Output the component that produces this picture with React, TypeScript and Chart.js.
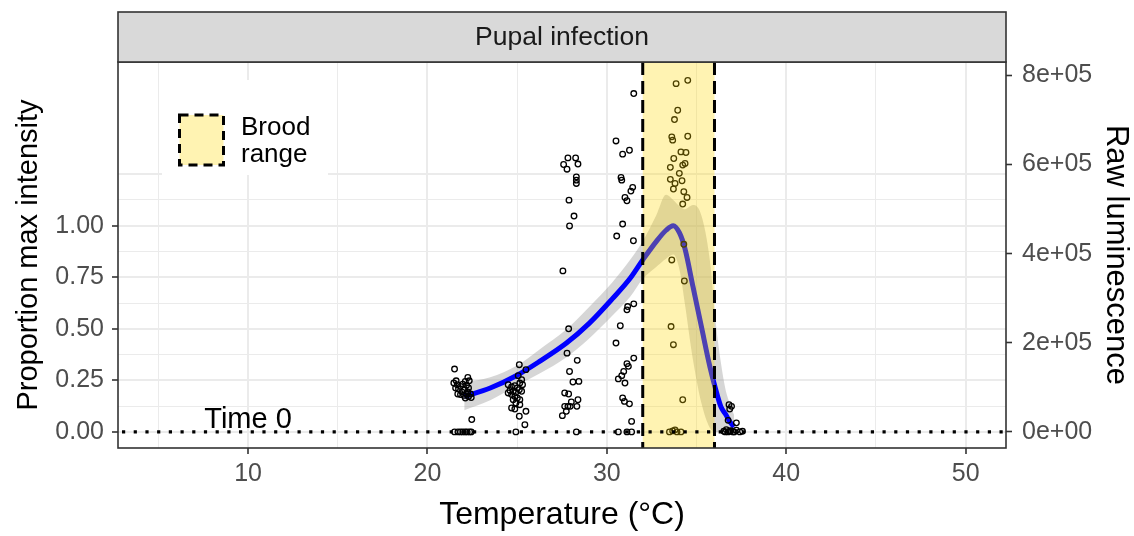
import React, { useEffect, useRef } from "react";
import { Chart, registerables } from "chart.js";

Chart.register(...registerables);

// ---------- data ----------
const X_MIN = 2.75;
const X_MAX = 52.25;
const Y_MIN = -0.078;
const Y_MAX = 1.794;
const LUM_PER_UNIT = 462700; // raw luminescence for proportion 1.0

const X_TICKS = [5, 10, 15, 20, 25, 30, 35, 40, 45, 50];
const X_LABELED = [10, 20, 30, 40, 50];
const Y_TICKS = [0, 0.125, 0.25, 0.375, 0.5, 0.625, 0.75, 0.875, 1, 1.125, 1.25];
const Y_LABELED = [0, 0.25, 0.5, 0.75, 1];
const LUM_TICKS = [0, 200000, 400000, 600000, 800000];

const BROOD_RANGE = [32, 36];
const ZERO_LINE = 0;
const TIME0_T = 10;
const TIME0_TEXT = "Time 0";
const STRIP_TEXT = "Pupal infection";
const LEGEND_LINES = ["Brood", "range"];
const X_TITLE = "Temperature (°C)";
const Y_TITLE = "Proportion max intensity";
const Y2_TITLE = "Raw luminescence";

const POINT_T = [
  // ~22 °C
  21.51, 21.7, 21.84, 21.97, 22.1, 22.21, 22.35, 22.44,
  21.51, 21.6, 21.47, 21.66, 21.57, 21.73, 21.84, 21.97, 22.11, 22.25, 22.33, 22.18,
  22.29, 22.07, 21.92, 21.69, 21.84, 22.03, 22.18, 22.29, 22.4, 22.44, 22.11, 22.25, 22.47,
  // ~25 °C
  25.12, 25.49, 25.06, 25.25, 24.5, 24.69, 24.87, 25.01, 25.15, 25.3, 24.6, 24.78, 24.93,
  25.12, 25.25, 24.5, 24.69, 24.87, 25.01, 25.15, 24.78, 24.93, 24.69, 24.87, 25.15, 25.49,
  25.12, 25.43, 24.93,
  // ~28 °C
  27.83, 28.26, 27.59, 27.78, 28.39, 28.3, 28.3, 28.3, 27.89, 28.17, 27.92, 27.55, 27.87,
  27.78, 28.35, 27.92, 28.11, 28.44, 27.65, 27.87, 28.39, 28.02, 27.65, 27.83, 27.96, 28.33,
  27.74, 27.52, 28.3,
  // ~31 °C
  31.5, 30.51, 30.88, 31.26, 30.79, 30.83, 31.44, 31.34, 31.01, 31.12, 30.88, 30.55, 31.48,
  31.5, 31.16, 31.12, 30.75, 30.51, 31.5, 31.12, 31.2, 30.94, 30.83, 30.64, 31.01, 30.88,
  30.98, 31.26, 31.38, 30.64, 31.12, 31.38,
  // ~34 °C
  33.86, 34.51, 33.95, 33.77, 33.62, 33.67, 34.51, 34.13, 34.41, 33.73, 34.23, 34.36, 33.54,
  34.04, 33.54, 33.8, 34.19, 33.71, 34.29, 34.47, 34.23, 34.29, 33.62, 34.32, 33.58, 33.71,
  34.23, 33.49, 33.67, 33.8, 33.91, 34.13,
  // ~37 °C
  36.81, 36.95, 36.85, 36.76, 37.22, 36.52, 36.66, 36.85, 37.03, 37.22, 37.41, 37.56, 36.76,
  36.6, 36.9, 37.1,
];

const POINT_Y = [
  // ~22 °C
  0, 0, 0, 0, 0, 0, 0, 0,
  0.305, 0.248, 0.237, 0.229, 0.213, 0.208, 0.221, 0.232, 0.245, 0.264, 0.248, 0.226,
  0.213, 0.205, 0.194, 0.184, 0.181, 0.177, 0.184, 0.172, 0.184, 0.167, 0.164, 0.194, 0.06,
  // ~25 °C
  0.326, 0.302, 0.273, 0.253, 0.229, 0.218, 0.224, 0.213, 0.237, 0.229, 0.201, 0.197, 0.192,
  0.205, 0.197, 0.189, 0.181, 0.172, 0.165, 0.156, 0.156, 0.14, 0.116, 0.111, 0.132, 0.1,
  0.076, 0.035, 0,
  // ~28 °C
  1.329, 1.329, 1.297, 1.274, 1.299, 1.237, 1.221, 1.205, 1.124, 1.047, 0.999, 0.781, 0.5,
  0.382, 0.347, 0.293, 0.242, 0.245, 0.189, 0.184, 0.156, 0.145, 0.124, 0.124, 0.124, 0.124,
  0.1, 0.079, 0,
  // ~31 °C
  1.641, 1.411, 1.347, 1.366, 1.234, 1.221, 1.186, 1.168, 1.137, 1.121, 1.008, 0.95, 0.927,
  0.621, 0.608, 0.592, 0.515, 0.431, 0.358, 0.331, 0.318, 0.293, 0.273, 0.257, 0.237, 0.165,
  0.148, 0.136, 0.051, 0, 0, 0,
  // ~34 °C
  1.689, 1.705, 1.56, 1.515, 1.431, 1.415, 1.434, 1.358, 1.355, 1.326, 1.294, 1.302, 1.283,
  1.254, 1.225, 1.205, 1.218, 1.178, 1.165, 1.137, 1.105, 0.91, 0.834, 0.732, 0.511, 0.423,
  0.156, 0, 0.005, 0.01, 0, 0,
  // ~37 °C
  0.132, 0.124, 0.111, 0.056, 0.044, 0.003, 0.011, 0.003, 0, 0.008, 0, 0.003, 0,
  0, 0.006, 0,
];

const CURVE_T = [22.05, 23.5, 25.0, 26.25, 27.75, 29.0, 30.3, 31.3, 32.0, 32.75, 33.3, 33.7, 34.05, 34.35, 34.8, 35.27, 35.74, 36.07, 36.35, 36.63, 36.85, 37.1];
const CURVE_Y = [0.172, 0.213, 0.275, 0.342, 0.431, 0.525, 0.645, 0.745, 0.834, 0.923, 0.978, 1.0, 0.965, 0.89, 0.705, 0.511, 0.318, 0.205, 0.124, 0.084, 0.05, 0.025];
const CI_HIGH = [0.24, 0.265, 0.322, 0.4, 0.498, 0.605, 0.725, 0.835, 0.925, 1.05, 1.15, 1.125, 1.095, 1.08, 1.1, 1.05, 0.834, 0.53, 0.34, 0.2, 0.14, 0.08];
const CI_LOW = [0.105, 0.153, 0.226, 0.283, 0.362, 0.452, 0.563, 0.655, 0.742, 0.8, 0.84, 0.86, 0.786, 0.62, 0.35, 0.14, 0.02, 0, 0, 0, 0, 0];

// ---------- styling ----------
const FONT = '"Liberation Sans", Arial, Helvetica, sans-serif';
const W = 1134;
const H = 536;
const PANEL = { left: 118, right: 1006, top: 62, bottom: 448 };
const STRIP_TOP = 12;
const BROOD_FILL = "rgba(255,215,0,0.3)";

const overlay = {
  id: "overlay",
  beforeDatasetsDraw(chart: any) {
    const { ctx } = chart;
    ctx.save();
    ctx.fillStyle = "#FFFFFF";
    ctx.fillRect(162, 80, 166, 95);
    ctx.restore();
  },
  afterDatasetsDraw(chart: any) {
    const { ctx, chartArea: ca, scales } = chart;
    const xs = scales.x;
    const ys = scales.y;
    ctx.save();
    ctx.beginPath();
    ctx.rect(ca.left, ca.top, ca.right - ca.left, ca.bottom - ca.top);
    ctx.clip();

    const x0 = xs.getPixelForValue(BROOD_RANGE[0]);
    const x1 = xs.getPixelForValue(BROOD_RANGE[1]);
    ctx.fillStyle = BROOD_FILL;
    ctx.fillRect(x0, ca.top, x1 - x0, ca.bottom - ca.top);

    const y0 = ys.getPixelForValue(ZERO_LINE);
    ctx.strokeStyle = "#000";
    ctx.lineWidth = 3.2;
    ctx.setLineDash([3.2, 8.5]);
    ctx.beginPath();
    ctx.moveTo(ca.left + 4, y0);
    ctx.lineTo(ca.right, y0);
    ctx.stroke();

    ctx.setLineDash([13, 6]);
    ctx.lineWidth = 3;
    for (const xv of [x0, x1]) {
      ctx.beginPath();
      ctx.moveTo(xv, ca.top);
      ctx.lineTo(xv, ca.bottom);
      ctx.stroke();
    }
    ctx.setLineDash([]);

    ctx.fillStyle = "#000";
    ctx.font = `29px ${FONT}`;
    ctx.textAlign = "center";
    ctx.textBaseline = "alphabetic";
    ctx.fillText(TIME0_TEXT, xs.getPixelForValue(TIME0_T), y0 - 4);
    ctx.restore();

    // legend key
    ctx.save();
    ctx.fillStyle = BROOD_FILL;
    ctx.fillRect(179.5, 115, 44, 50);
    ctx.strokeStyle = "#000";
    ctx.lineWidth = 3;
    ctx.setLineDash([9, 6]);
    ctx.strokeRect(179.5, 115, 44, 50);
    ctx.setLineDash([]);
    ctx.fillStyle = "#000";
    ctx.font = `26px ${FONT}`;
    ctx.textAlign = "left";
    ctx.textBaseline = "alphabetic";
    ctx.fillText(LEGEND_LINES[0], 241, 135);
    ctx.fillText(LEGEND_LINES[1], 241, 162);
    ctx.restore();

    // panel border
    ctx.save();
    ctx.strokeStyle = "#333333";
    ctx.lineWidth = 1.6;
    ctx.strokeRect(ca.left, ca.top, ca.right - ca.left, ca.bottom - ca.top);
    ctx.restore();
  },
  afterDraw(chart: any) {
    const { ctx, chartArea: ca } = chart;
    ctx.save();
    ctx.fillStyle = "#D9D9D9";
    ctx.fillRect(ca.left, STRIP_TOP, ca.right - ca.left, ca.top - STRIP_TOP);
    ctx.strokeStyle = "#333333";
    ctx.lineWidth = 1.6;
    ctx.strokeRect(ca.left, STRIP_TOP, ca.right - ca.left, ca.top - STRIP_TOP);
    ctx.fillStyle = "#1A1A1A";
    ctx.font = `26.5px ${FONT}`;
    ctx.textAlign = "center";
    ctx.textBaseline = "middle";
    ctx.fillText(STRIP_TEXT, (ca.left + ca.right) / 2, (STRIP_TOP + ca.top) / 2 + 1);
    ctx.restore();
  },
};

const lumLabel = (v: number) =>
  v.toExponential(0).replace(/e([+-])(\d)$/, "e$10$2");

export default function App() {
  const ref = useRef<HTMLCanvasElement | null>(null);

  useEffect(() => {
    if (!ref.current) return;
    const points = POINT_T.map((t, i) => ({ x: t, y: POINT_Y[i] }));
    const curve = CURVE_T.map((t, i) => ({ x: t, y: CURVE_Y[i] }));
    const hi = CURVE_T.map((t, i) => ({ x: t, y: CI_HIGH[i] }));
    const lo = CURVE_T.map((t, i) => ({ x: t, y: CI_LOW[i] }));

    const tickFont = { family: FONT, size: 25 };

    const chart = new Chart(ref.current, {
      type: "scatter",
      data: {
        datasets: [
          {
            type: "scatter",
            data: points,
            pointStyle: "circle",
            pointRadius: 2.8,
            borderWidth: 1.3,
            borderColor: "#000000",
            backgroundColor: "rgba(0,0,0,0)",
            order: 0,
          } as any,
          {
            type: "line",
            data: curve,
            borderColor: "#0000FF",
            borderWidth: 5,
            pointRadius: 0,
            fill: false,
            cubicInterpolationMode: "monotone",
            order: 1,
          } as any,
          {
            type: "line",
            data: hi,
            borderColor: "rgba(0,0,0,0)",
            borderWidth: 0,
            pointRadius: 0,
            backgroundColor: "rgba(153,153,153,0.4)",
            fill: "+1",
            cubicInterpolationMode: "monotone",
            order: 2,
          } as any,
          {
            type: "line",
            data: lo,
            borderColor: "rgba(0,0,0,0)",
            borderWidth: 0,
            pointRadius: 0,
            fill: false,
            cubicInterpolationMode: "monotone",
            order: 3,
          } as any,
        ],
      },
      options: {
        animation: false,
        responsive: false,
        devicePixelRatio: 1,
        layout: { padding: { top: PANEL.top, left: 0, right: 0, bottom: 0 } },
        plugins: {
          legend: { display: false },
          tooltip: { enabled: false },
        },
        scales: {
          x: {
            type: "linear",
            position: "bottom",
            min: X_MIN,
            max: X_MAX,
            afterBuildTicks: (s: any) => {
              s.ticks = X_TICKS.map((v) => ({ value: v }));
            },
            afterFit: (s: any) => {
              s.height = H - PANEL.bottom;
            },
            ticks: {
              autoSkip: false,
              maxRotation: 0,
              padding: 5,
              color: "#4D4D4D",
              font: tickFont,
              callback: (v: any) => (X_LABELED.includes(Number(v)) ? String(v) : ""),
            },
            grid: {
              color: "#EBEBEB",
              lineWidth: (c: any) => (c.tick && X_LABELED.includes(c.tick.value) ? 2 : 1),
              tickLength: 6,
              tickWidth: 1.6,
              tickColor: (c: any) =>
                c.tick && X_LABELED.includes(c.tick.value) ? "#333333" : "rgba(0,0,0,0)",
            },
            border: { display: false },
            title: {
              display: true,
              text: X_TITLE,
              color: "#000",
              font: { family: FONT, size: 32 },
              padding: { top: 0, bottom: 2 },
            },
          },
          y: {
            type: "linear",
            position: "left",
            min: Y_MIN,
            max: Y_MAX,
            afterBuildTicks: (s: any) => {
              s.ticks = Y_TICKS.map((v) => ({ value: v }));
            },
            afterFit: (s: any) => {
              s.width = PANEL.left;
            },
            ticks: {
              autoSkip: false,
              padding: 8,
              color: "#4D4D4D",
              font: tickFont,
              callback: (v: any) =>
                Y_LABELED.includes(Number(v)) ? Number(v).toFixed(2) : "",
            },
            grid: {
              color: "#EBEBEB",
              lineWidth: (c: any) =>
                c.tick && Math.abs((c.tick.value * 4) % 1) < 1e-9 ? 2 : 1,
              tickLength: 6,
              tickWidth: 1.6,
              tickColor: (c: any) =>
                c.tick && Y_LABELED.includes(c.tick.value) ? "#333333" : "rgba(0,0,0,0)",
            },
            border: { display: false },
            title: {
              display: true,
              text: Y_TITLE,
              color: "#000",
              font: { family: FONT, size: 29 },
              padding: { top: 12, bottom: 0 },
            },
          },
          y2: {
            type: "linear",
            position: "right",
            min: Y_MIN * LUM_PER_UNIT,
            max: Y_MAX * LUM_PER_UNIT,
            afterBuildTicks: (s: any) => {
              s.ticks = LUM_TICKS.map((v) => ({ value: v }));
            },
            afterFit: (s: any) => {
              s.width = W - PANEL.right;
            },
            ticks: {
              autoSkip: false,
              padding: 10,
              color: "#4D4D4D",
              font: tickFont,
              callback: (v: any) => lumLabel(Number(v)),
            },
            grid: {
              drawOnChartArea: false,
              tickLength: 6,
              tickWidth: 1.6,
              tickColor: "#333333",
            },
            border: { display: false },
            title: {
              display: true,
              text: Y2_TITLE,
              color: "#000",
              font: { family: FONT, size: 31 },
              padding: { top: 0, bottom: 0 },
            },
          },
        },
      } as any,
      plugins: [overlay],
    });

    return () => chart.destroy();
  }, []);

  return (
    <div
      style={{
        position: "fixed",
        left: 0,
        top: 0,
        width: W,
        height: H,
        background: "#FFFFFF",
      }}
    >
      <canvas ref={ref} width={W} height={H} style={{ display: "block" }} />
    </div>
  );
}
